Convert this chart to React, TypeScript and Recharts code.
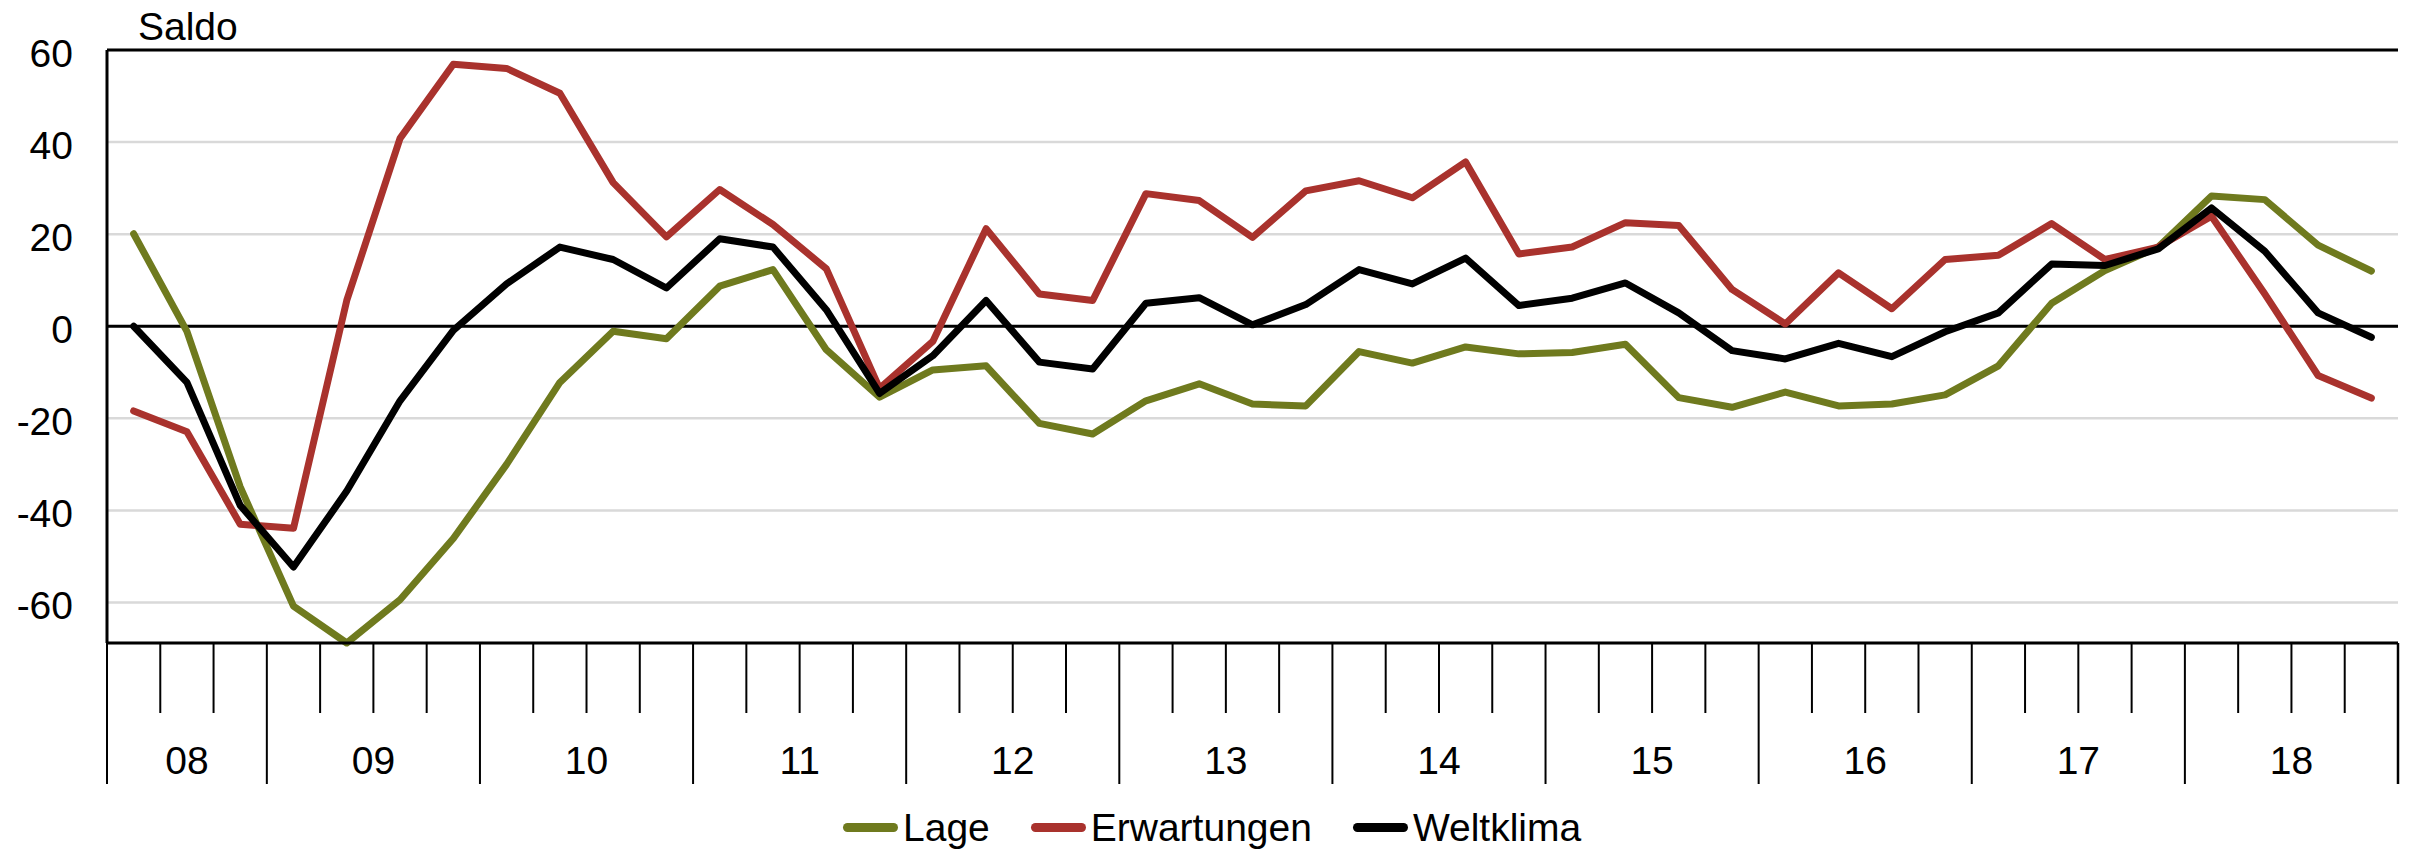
import React from 'react'
import { LineChart, Line, XAxis, YAxis, CartesianGrid, ReferenceLine, Label } from 'recharts'

// quarterly values, 2008 Q2 .. 2018 Q4
const quarters = [
  '08Q2', '08Q3', '08Q4',
  '09Q1', '09Q2', '09Q3', '09Q4',
  '10Q1', '10Q2', '10Q3', '10Q4',
  '11Q1', '11Q2', '11Q3', '11Q4',
  '12Q1', '12Q2', '12Q3', '12Q4',
  '13Q1', '13Q2', '13Q3', '13Q4',
  '14Q1', '14Q2', '14Q3', '14Q4',
  '15Q1', '15Q2', '15Q3', '15Q4',
  '16Q1', '16Q2', '16Q3', '16Q4',
  '17Q1', '17Q2', '17Q3', '17Q4',
  '18Q1', '18Q2', '18Q3', '18Q4',
]
const years = ['08', '09', '10', '11', '12', '13', '14', '15', '16', '17', '18']

const lage = [
  20.1, -1.1, -34.9, -60.8, -68.8, -59.4, -46.1, -30, -12.2, -1.1, -2.7, 8.7, 12.3, -5.1, -15.4,
  -9.5, -8.6, -21.1, -23.4, -16.2, -12.5, -16.9, -17.3, -5.5, -8, -4.5, -6, -5.7, -3.9, -15.5,
  -17.6, -14.3, -17.3, -16.9, -14.9, -8.6, 5, 12.1, 17.2, 28.3, 27.5, 17.6, 12,
]
const erwartungen = [
  -18.4, -22.9, -43, -43.9, 5.6, 40.8, 56.9, 56, 50.6, 31.2, 19.4, 29.7, 22.1, 12.5, -13.5,
  -3.3, 21.2, 7, 5.6, 28.8, 27.3, 19.3, 29.4, 31.6, 27.9, 35.7, 15.7, 17.2, 22.5, 21.9,
  8, 0.5, 11.6, 3.8, 14.5, 15.4, 22.3, 14.5, 17.2, 23.9, 7, -10.7, -15.6,
]
const weltklima = [
  0, -12.2, -38.9, -52.3, -35.8, -16.2, -0.9, 9.2, 17.2, 14.5, 8.3, 19, 17.2, 3.6, -14.6,
  -6.4, 5.6, -7.8, -9.3, 5, 6.2, 0.3, 4.7, 12.3, 9.2, 14.8, 4.5, 6.1, 9.4, 2.9,
  -5.3, -7.1, -3.7, -6.6, -1.2, 2.9, 13.5, 13.2, 16.8, 25.7, 16.3, 2.9, -2.4,
]
const yTicks = [-60, -40, -20, 0, 20, 40, 60]

const legendItems = [
  { name: 'Lage', color: '#6f7a1e' },
  { name: 'Erwartungen', color: '#a9322d' },
  { name: 'Weltklima', color: '#000000' },
]

// the wrapper is pulled up over the body margin, so the svg starts at page y = 0
const W = 2394
const H = 851
const MARGIN = { top: 50, right: 4, left: 0, bottom: 0 }
const Y_W = 99
const X_H = 208
const QW = (W - MARGIN.left - MARGIN.right - Y_W) / quarters.length
const FONT = '"Liberation Sans", Arial, sans-serif'

const data = quarters.map((q, i) => ({
  q,
  lage: lage[i],
  erwartungen: erwartungen[i],
  weltklima: weltklima[i],
}))

function YTick({ x, y, payload }: any) {
  return (
    <text x={x} y={y + 17} textAnchor="end" fontSize={39} fill="#000" fontFamily={FONT}>
      {payload.value}
    </text>
  )
}

// quarter ticks between categories, long ticks + labels at year boundaries
function XTick({ x, y, index }: any) {
  const left = x - QW / 2
  const yearStart = index === 0 || index % 4 === 3
  const last = index === quarters.length - 1
  let label = null
  if (yearStart) {
    const n = index === 0 ? 3 : Math.min(4, quarters.length - index)
    const yi = index === 0 ? 0 : (index + 1) / 4
    label = (
      <text x={left + (n * QW) / 2} y={y + 131} textAnchor="middle" fontSize={39} fill="#000" fontFamily={FONT}>
        {years[yi]}
      </text>
    )
  }
  return (
    <g>
      <line x1={left} x2={left} y1={y} y2={y + (yearStart ? 141 : 70)} stroke="#000" strokeWidth={2} />
      {last && <line x1={x + QW / 2} x2={x + QW / 2} y1={y} y2={y + 141} stroke="#000" strokeWidth={2.5} />}
      {label}
    </g>
  )
}

export default function App() {
  return (
    <div style={{ position: 'relative', width: W, height: H, marginTop: -8, fontFamily: FONT, background: '#fff' }}>
      <LineChart width={W} height={H} data={data} margin={MARGIN}>
        <CartesianGrid yAxisId="left" vertical={false} stroke="#d9d9d9" strokeWidth={2.5} />
        <XAxis
          dataKey="q"
          scale="band"
          height={X_H}
          interval={0}
          tickSize={0}
          tickMargin={0}
          tickLine={false}
          axisLine={{ stroke: '#000', strokeWidth: 3 }}
          tick={<XTick />}
        />
        <YAxis
          yAxisId="left"
          width={Y_W}
          domain={[-60, 60]}
          ticks={yTicks}
          tickSize={0}
          tickMargin={34}
          tickLine={false}
          axisLine={{ stroke: '#000', strokeWidth: 3 }}
          tick={<YTick />}
        >
          <Label
            content={({ viewBox }: any) => (
              <text x={viewBox.x + viewBox.width + 31} y={viewBox.y - 10} fontSize={39} fill="#000" fontFamily={FONT}>
                Saldo
              </text>
            )}
          />
        </YAxis>
        <YAxis
          yAxisId="right"
          orientation="right"
          width={0}
          domain={[-60, 60]}
          tick={false}
          tickLine={false}
          axisLine={{ stroke: '#000', strokeWidth: 3 }}
        />
        <ReferenceLine yAxisId="left" y={60} stroke="#000" strokeWidth={3} />
        <ReferenceLine yAxisId="left" y={0} stroke="#000" strokeWidth={3} />
        <Line yAxisId="left" type="linear" dataKey="lage" stroke={legendItems[0].color} strokeWidth={7} strokeLinecap="round" strokeLinejoin="round" dot={false} isAnimationActive={false} />
        <Line yAxisId="left" type="linear" dataKey="erwartungen" stroke={legendItems[1].color} strokeWidth={7} strokeLinecap="round" strokeLinejoin="round" dot={false} isAnimationActive={false} />
        <Line yAxisId="left" type="linear" dataKey="weltklima" stroke={legendItems[2].color} strokeWidth={7} strokeLinecap="round" strokeLinejoin="round" dot={false} isAnimationActive={false} />
      </LineChart>
      <div style={{ position: 'absolute', left: 835, top: 805, height: 45, display: 'flex', alignItems: 'center', fontSize: 39, lineHeight: '45px', color: '#000', whiteSpace: 'nowrap' }}>
        {legendItems.map((it, i) => (
          <div key={it.name} style={{ display: 'flex', alignItems: 'center', marginLeft: i === 0 ? 0 : 41 }}>
            <div style={{ width: 55, height: 9, borderRadius: 5, background: it.color, marginRight: 5 }} />
            <span>{it.name}</span>
          </div>
        ))}
      </div>
    </div>
  )
}
